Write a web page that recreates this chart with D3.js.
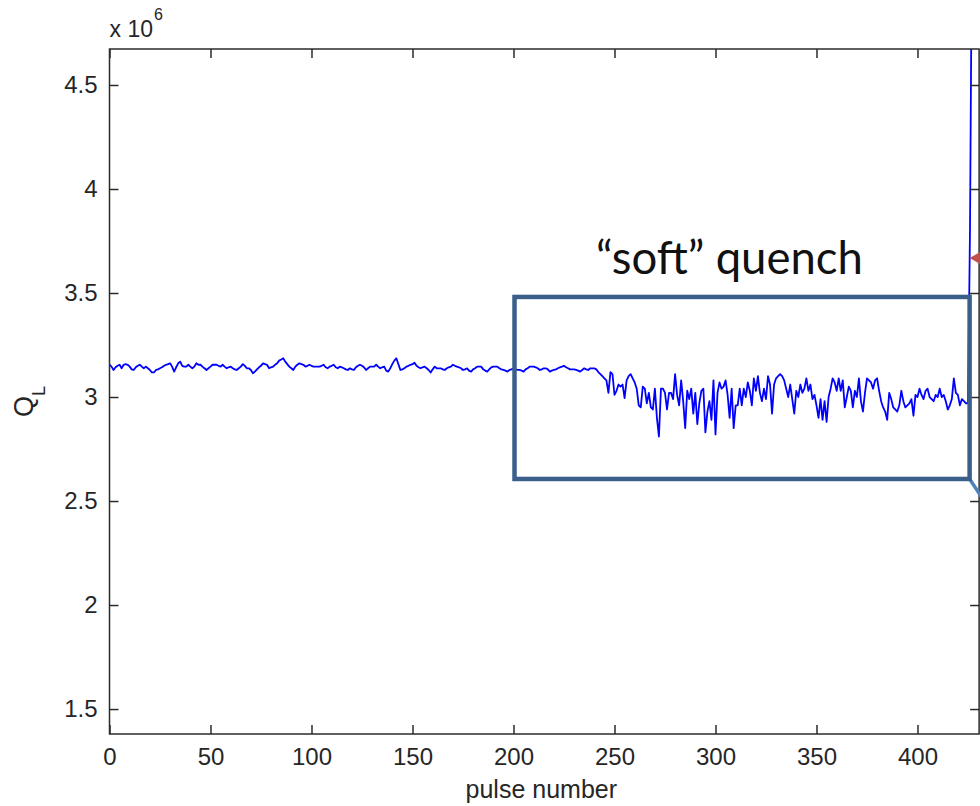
<!DOCTYPE html>
<html><head><meta charset="utf-8">
<script src="https://cdn.jsdelivr.net/npm/d3@7"></script>
<style>body{margin:0;background:#fff;} svg{display:block;}</style>
</head><body>
<svg id="chart" width="980" height="806"></svg>
<script>
// Q_L (x 10^6) for pulse numbers 0,1,2,...
const qL = [
3.155,3.146,3.13,3.143,3.15,3.155,3.138,3.155,3.158,3.155,
3.146,3.133,3.13,3.143,3.15,3.155,3.146,3.138,3.146,3.138,
3.13,3.118,3.118,3.13,3.133,3.138,3.143,3.15,3.155,3.158,
3.162,3.146,3.122,3.143,3.162,3.17,3.15,3.146,3.146,3.155,
3.146,3.138,3.146,3.162,3.155,3.155,3.146,3.138,3.13,3.138,
3.146,3.155,3.155,3.155,3.15,3.146,3.155,3.146,3.138,3.143,
3.146,3.138,3.133,3.13,3.138,3.146,3.158,3.15,3.138,3.138,
3.13,3.114,3.122,3.133,3.143,3.15,3.162,3.158,3.155,3.138,
3.143,3.146,3.155,3.162,3.175,3.18,3.186,3.17,3.158,3.146,
3.138,3.13,3.146,3.155,3.162,3.158,3.155,3.146,3.15,3.155,
3.15,3.146,3.146,3.146,3.146,3.15,3.155,3.143,3.138,3.146,
3.15,3.155,3.143,3.138,3.146,3.143,3.138,3.133,3.13,3.138,
3.133,3.13,3.143,3.15,3.155,3.15,3.143,3.13,3.138,3.146,
3.146,3.146,3.155,3.146,3.138,3.143,3.146,3.127,3.122,3.138,
3.158,3.175,3.186,3.158,3.13,3.133,3.138,3.146,3.15,3.155,
3.158,3.165,3.15,3.143,3.138,3.143,3.146,3.138,3.13,3.118,
3.133,3.146,3.138,3.138,3.138,3.133,3.13,3.138,3.143,3.146,
3.155,3.15,3.146,3.143,3.138,3.13,3.133,3.138,3.127,3.122,
3.133,3.138,3.146,3.146,3.146,3.133,3.127,3.122,3.133,3.143,
3.146,3.146,3.146,3.138,3.133,3.13,3.127,3.122,3.13,3.133,
3.138,3.133,3.13,3.13,3.127,3.122,3.133,3.138,3.146,3.146,
3.146,3.143,3.138,3.13,3.133,3.138,3.138,3.133,3.122,3.127,
3.13,3.133,3.138,3.143,3.146,3.15,3.143,3.138,3.133,3.133,
3.133,3.13,3.127,3.122,3.13,3.138,3.133,3.13,3.138,3.138,
3.138,3.133,3.12,3.11,3.10,3.09,3.08,3.02,3.12,3.11,
3.01,3.03,3.06,3.05,3.06,2.995,3.08,3.10,3.11,3.09,
3.07,3.04,2.96,2.95,3.05,3.04,2.97,3.02,2.95,2.94,
3.04,2.90,2.81,3.04,3.04,3.02,2.94,3.02,3.02,2.99,
3.11,3.01,2.96,3.08,2.98,2.85,3.03,2.99,3.04,2.92,
3.02,2.87,2.97,3.03,3.04,2.83,2.93,2.98,2.89,3.08,
2.82,3.02,3.07,3.04,3.05,3.08,3.01,2.90,3.04,2.85,
2.96,2.96,3.04,2.96,3.04,3.00,3.07,3.03,2.96,3.09,
3.03,3.10,3.02,2.98,3.04,2.99,3.10,3.06,2.92,3.06,
3.09,3.10,3.11,3.10,3.08,3.04,3.00,3.06,2.99,2.92,
3.03,3.00,3.06,3.02,3.04,3.09,3.03,3.06,2.99,3.01,
2.96,2.90,2.99,2.89,2.98,2.88,3.00,3.04,3.09,3.07,
3.03,3.09,3.03,3.08,2.95,3.00,3.05,3.03,2.95,3.03,
3.00,3.09,2.98,2.93,3.02,3.09,3.08,3.07,3.04,3.08,
3.09,3.03,2.98,2.95,2.93,2.89,3.02,2.99,2.95,2.94,
2.93,2.96,3.03,2.98,2.95,2.96,2.97,2.99,2.91,3.01,
3.00,3.04,3.01,2.99,3.03,3.04,3.00,2.99,2.98,3.01,
3.00,3.04,3.00,3.01,2.98,2.94,2.96,2.99,3.09,3.02,
3.01,2.96,2.99,2.98,2.97,2.97,3.81,5.3,5.6
];
const xTicks = [0,50,100,150,200,250,300,350,400];
const yTicks = [1.5,2,2.5,3,3.5,4,4.5];
const yTickLabels = ["1.5","2","2.5","3","3.5","4","4.5"];
const xDomain = [0, 430.5];
const yDomain = [1.38, 4.673];
const xLabel = "pulse number";
const yLabelMain = "Q", yLabelSub = "L";
const expBase = "x 10", expPow = "6";
// annotation (data coords)
const boxX = [200.5, 425.8];
const boxY = [2.606, 3.481];
const noteText = "\u201csoft\u201d quench";
const notePos = [240.8, 3.592];
const arrowTip = [425.8, 3.668];

const svg = d3.select("#chart");
const W = 980, H = 806;
const pL = 109.5, pR = 979.1, pT = 49, pB = 734;
const x = d3.scaleLinear().domain(xDomain).range([pL, pR]);
const y = d3.scaleLinear().domain(yDomain).range([pB, pT]);
const axisColor = "#2b2b2b";
const tickFont = "'Liberation Sans', Arial, sans-serif";

svg.append("rect").attr("width", W).attr("height", H).attr("fill", "#fff");

svg.append("clipPath").attr("id", "plotclip")
  .append("rect").attr("x", pL).attr("y", pT).attr("width", pR - pL).attr("height", pB - pT);

// data line
const line = d3.line().x((d, i) => x(i)).y(d => y(d));
svg.append("path").datum(qL)
  .attr("clip-path", "url(#plotclip)")
  .attr("d", line)
  .attr("fill", "none").attr("stroke", "#0000ff").attr("stroke-width", 1.8)
  .attr("stroke-linejoin", "round");

// axes (box with inward ticks)
const tickLen = 9;
const axB = d3.axisBottom(x).tickValues(xTicks).tickSize(-tickLen).tickPadding(14).tickFormat(d3.format("d"));
const axT = d3.axisTop(x).tickValues(xTicks).tickSize(-tickLen).tickFormat("");
const axL = d3.axisLeft(y).tickValues(yTicks).tickSize(-tickLen).tickPadding(12).tickFormat((d, i) => yTickLabels[i]);
const axR = d3.axisRight(y).tickValues(yTicks).tickSize(-tickLen).tickFormat("");

function styleAxis(g) {
  g.select(".domain").remove();
  g.selectAll(".tick line").attr("stroke", axisColor).attr("stroke-width", 1.5);
  g.selectAll(".tick text").attr("fill", "#262626").attr("font-family", tickFont).attr("font-size", 24);
}
svg.append("g").attr("transform", `translate(0,${pB})`).call(axB).call(styleAxis);
svg.append("g").attr("transform", `translate(0,${pT})`).call(axT).call(styleAxis);
svg.append("g").attr("transform", `translate(${pL},0)`).call(axL).call(styleAxis);
svg.append("g").attr("transform", `translate(${pR},0)`).call(axR).call(styleAxis);
svg.append("rect").attr("x", pL).attr("y", pT).attr("width", pR - pL).attr("height", pB - pT)
  .attr("fill", "none").attr("stroke", axisColor).attr("stroke-width", 1.5);

// x label
svg.append("text").attr("x", (pL + pR) / 2 - 3).attr("y", 798)
  .attr("text-anchor", "middle").attr("font-family", tickFont).attr("font-size", 25)
  .attr("fill", "#262626").text(xLabel);

// y label
const yl = svg.append("text").attr("transform", "translate(33,417) rotate(-90)")
  .attr("font-family", tickFont).attr("font-size", 27).attr("fill", "#262626");
yl.append("tspan").text(yLabelMain);
yl.append("tspan").attr("font-size", 18).attr("dy", 12).text(yLabelSub);

// exponent
const ex = svg.append("text").attr("x", pL).attr("y", 37)
  .attr("font-family", tickFont).attr("font-size", 23).attr("fill", "#262626");
ex.append("tspan").text(expBase);
ex.append("tspan").attr("font-size", 16).attr("dy", -17).attr("dx", 1).text(expPow);

// annotations
svg.append("line")
  .attr("x1", x(boxX[1])).attr("y1", y(boxY[0]))
  .attr("x2", x(boxX[1]) + 16).attr("y2", y(boxY[0]) + 24)
  .attr("stroke", "#4f81bd").attr("stroke-width", 3.5);
svg.append("rect")
  .attr("x", x(boxX[0])).attr("y", y(boxY[1]))
  .attr("width", x(boxX[1]) - x(boxX[0])).attr("height", y(boxY[0]) - y(boxY[1]))
  .attr("fill", "none").attr("stroke", "#3a5f8b").attr("stroke-width", 4.5);

const tx = x(arrowTip[0]), ty = y(arrowTip[1]);
svg.append("path")
  .attr("d", `M${tx},${ty} L${tx + 14},${ty - 8} L${tx + 14},${ty + 8} Z`)
  .attr("fill", "#c0504d");

const note = svg.append("text").attr("x", x(notePos[0])).attr("y", y(notePos[1]))
  .attr("font-family", "Lato, 'Open Sans', sans-serif").attr("font-size", 40)
  .attr("fill", "#111").text(noteText);
const w0 = note.node().getComputedTextLength();
note.attr("font-size", 40 * 267 / w0);
</script>
</body></html>
